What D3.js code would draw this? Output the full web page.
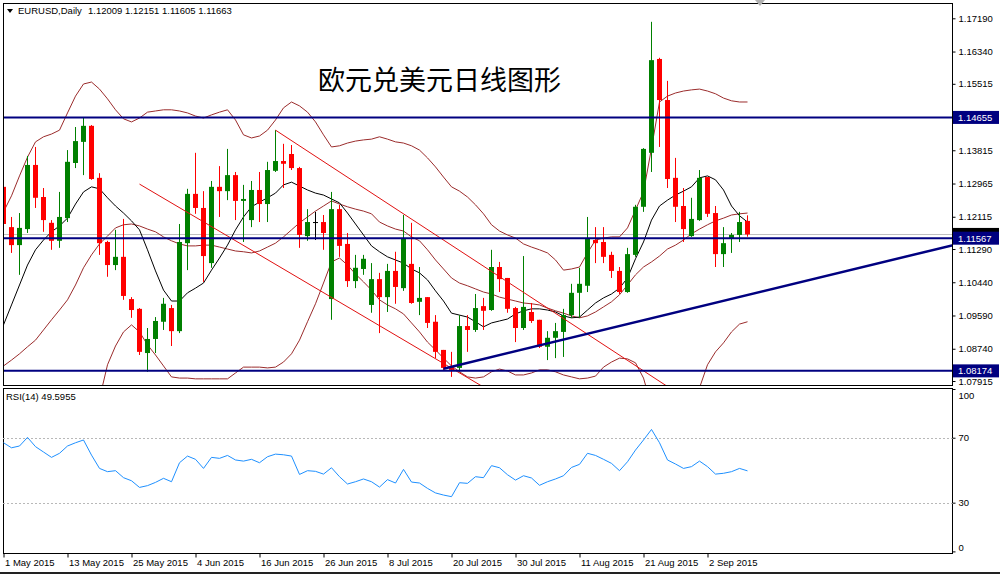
<!DOCTYPE html>
<html>
<head>
<meta charset="utf-8">
<script src="https://cdn.jsdelivr.net/npm/d3@7"></script>
<style>
  html, body { margin: 0; padding: 0; background: #fff; }
  svg { display: block; }
</style>
</head>
<body>
<div class="chart-container"></div>
<script>
// trading days shown on the chart (EURUSD daily, 1 May - 9 Sep 2015)
const dates = [
  "2015-05-01","2015-05-04","2015-05-05","2015-05-06","2015-05-07","2015-05-08","2015-05-11","2015-05-12","2015-05-13","2015-05-14",
  "2015-05-15","2015-05-18","2015-05-19","2015-05-20","2015-05-21","2015-05-22","2015-05-25","2015-05-26","2015-05-27","2015-05-28",
  "2015-05-29","2015-06-01","2015-06-02","2015-06-03","2015-06-04","2015-06-05","2015-06-08","2015-06-09","2015-06-10","2015-06-11",
  "2015-06-12","2015-06-15","2015-06-16","2015-06-17","2015-06-18","2015-06-19","2015-06-22","2015-06-23","2015-06-24","2015-06-25",
  "2015-06-26","2015-06-29","2015-06-30","2015-07-01","2015-07-02","2015-07-03","2015-07-06","2015-07-07","2015-07-08","2015-07-09",
  "2015-07-10","2015-07-13","2015-07-14","2015-07-15","2015-07-16","2015-07-17","2015-07-20","2015-07-21","2015-07-22","2015-07-23",
  "2015-07-24","2015-07-27","2015-07-28","2015-07-29","2015-07-30","2015-07-31","2015-08-03","2015-08-04","2015-08-05","2015-08-06",
  "2015-08-07","2015-08-10","2015-08-11","2015-08-12","2015-08-13","2015-08-14","2015-08-17","2015-08-18","2015-08-19","2015-08-20",
  "2015-08-21","2015-08-24","2015-08-25","2015-08-26","2015-08-27","2015-08-28","2015-08-31","2015-09-01","2015-09-02","2015-09-03",
  "2015-09-04","2015-09-07","2015-09-08","2015-09-09"
];

const opens = [
  1.1288,1.1185,1.1139,1.1180,1.1344,1.1262,1.1196,1.1150,1.1208,1.1349,
  1.1403,1.1444,1.1311,1.1147,1.1088,1.1109,1.1001,1.0976,1.0863,1.0899,
  1.0943,1.0978,1.0919,1.1144,1.1270,1.1234,1.1093,1.1288,1.1277,1.1318,
  1.1252,1.1203,1.1280,1.1244,1.1329,1.1354,1.1372,1.1336,1.1162,1.1198,
  1.1198,1.1001,1.1231,1.1142,1.1047,1.1078,1.0986,1.1052,1.1006,1.1073,
  1.1029,1.1091,1.0994,1.1006,1.0943,1.0871,1.0827,1.0825,1.0932,1.0922,
  1.0983,1.0973,1.1083,1.1055,1.0978,1.0927,1.0968,1.0948,1.0879,1.0902,
  1.0917,1.0960,1.1017,1.1035,1.1152,1.1147,1.1114,1.1073,1.1019,1.1114,
  1.1237,1.1375,1.1615,1.1510,1.1311,1.1239,1.1162,1.1203,1.1313,1.1221,
  1.1116,1.1157,1.1165,1.12009
];
const highs = [
  1.1293,1.1211,1.1221,1.1367,1.1390,1.1285,1.1203,1.1275,1.1382,1.1441,
  1.1465,1.1446,1.1323,1.1150,1.1178,1.1206,1.1006,1.0978,1.0927,1.0955,
  1.1004,1.0986,1.1193,1.1283,1.1375,1.1277,1.1303,1.1341,1.1385,1.1326,
  1.1293,1.1303,1.1326,1.1352,1.1433,1.1398,1.1395,1.1339,1.1231,1.1224,
  1.1216,1.1275,1.1242,1.1170,1.1114,1.1114,1.1093,1.1068,1.1091,1.1122,
  1.1216,1.1196,1.1083,1.1006,1.0960,1.0871,1.0866,1.0960,1.0960,1.1014,
  1.1004,1.1127,1.1096,1.1055,1.0981,1.1111,1.0991,1.0948,1.0919,1.0940,
  1.0976,1.1040,1.1081,1.1211,1.1185,1.1185,1.1122,1.1083,1.1132,1.1242,
  1.1387,1.1710,1.1618,1.1559,1.1362,1.1285,1.1260,1.1331,1.1313,1.1239,
  1.1185,1.1170,1.1224,1.12151
];
const lows = [
  1.1188,1.1119,1.1063,1.1170,1.1234,1.1173,1.1127,1.1132,1.1198,1.1336,
  1.1318,1.1306,1.1114,1.1058,1.1075,1.0999,1.0953,1.0858,1.0815,1.0863,
  1.0922,1.0881,1.0914,1.1075,1.1219,1.1045,1.1081,1.1211,1.1254,1.1203,
  1.1147,1.1185,1.1198,1.1198,1.1326,1.1285,1.1331,1.1132,1.1150,1.1152,
  1.1127,1.0948,1.1109,1.1032,1.1029,1.1063,1.0966,1.0914,1.0968,1.0989,
  1.1022,1.0989,1.0960,1.0927,1.0850,1.0817,1.0802,1.0815,1.0866,1.0917,
  1.0922,1.0971,1.1019,1.0966,1.0891,1.0922,1.0940,1.0876,1.0845,1.0850,
  1.0853,1.0953,1.0953,1.1019,1.1093,1.1093,1.1055,1.1014,1.1017,1.1109,
  1.1224,1.1326,1.1390,1.1285,1.1198,1.1147,1.1160,1.1201,1.1211,1.1083,
  1.1083,1.1119,1.1147,1.11605
];
const closes = [
  1.1193,1.1139,1.1183,1.1344,1.1260,1.1203,1.1150,1.1211,1.1352,1.1405,
  1.1444,1.1308,1.1144,1.1088,1.1109,1.1009,1.0973,1.0866,1.0899,1.0945,
  1.0989,1.0919,1.1147,1.1270,1.1234,1.1111,1.1288,1.1277,1.1318,1.1252,
  1.1257,1.1280,1.1244,1.1331,1.1354,1.1347,1.1336,1.1165,1.1198,1.1198,
  1.1170,1.1231,1.1137,1.1047,1.1081,1.1104,1.1052,1.1006,1.1073,1.1032,
  1.1155,1.0991,1.1004,1.0940,1.0866,1.0825,1.0820,1.0932,1.0922,1.0978,
  1.0971,1.1083,1.1052,1.0976,1.0927,1.0981,1.0945,1.0879,1.0902,1.0919,
  1.0960,1.1017,1.1040,1.1155,1.1144,1.1109,1.1073,1.1019,1.1116,1.1237,
  1.1385,1.1612,1.1510,1.1308,1.1237,1.1180,1.1206,1.1311,1.1219,1.1116,
  1.1144,1.1165,1.1198,1.11663
];

// black moving average
const maLine = [
  1.0935,1.0986,1.1037,1.1088,1.1127,1.1152,1.1173,1.1188,1.1208,1.1244,
  1.1275,1.1288,1.1283,1.1260,1.1239,1.1221,1.1201,1.1178,1.1127,1.1073,
  1.1024,1.0996,1.0996,1.1017,1.1029,1.1042,1.1075,1.1106,1.1139,1.1178,
  1.1211,1.1237,1.1249,1.1260,1.1272,1.1293,1.1300,1.1290,1.1280,1.1272,
  1.1267,1.1257,1.1247,1.1221,1.1193,1.1165,1.1137,1.1122,1.1109,1.1101,
  1.1093,1.1078,1.1068,1.1050,1.1022,1.0996,1.0965,1.0960,1.0955,1.0943,
  1.0930,1.0940,1.0945,1.0950,1.0963,1.0971,1.0976,1.0976,1.0973,1.0968,
  1.0958,1.0953,1.0955,1.0973,1.0991,1.1004,1.1014,1.1029,1.1055,1.1104,
  1.1147,1.1203,1.1239,1.1254,1.1267,1.1277,1.1288,1.1311,1.1316,1.1306,
  1.1280,1.1239,1.1214,1.1198
];

// Bollinger bands (brown)
const bbUpper = [
  1.1224,1.1265,1.1316,1.1364,1.1403,1.1416,1.1423,1.1433,1.1477,1.1520,
  1.1551,1.1556,1.1538,1.1513,1.1485,1.1462,1.1454,1.1464,1.1479,1.1482,
  1.1485,1.1485,1.1482,1.1477,1.1469,1.1464,1.1472,1.1479,1.1485,1.1459,
  1.1421,1.1413,1.1418,1.1433,1.1459,1.1490,1.1505,1.1495,1.1479,1.1454,
  1.1421,1.1390,1.1393,1.1400,1.1405,1.1408,1.1410,1.1416,1.1410,1.1403,
  1.1400,1.1393,1.1382,1.1362,1.1339,1.1313,1.1288,1.1277,1.1262,1.1242,
  1.1219,1.1191,1.1175,1.1165,1.1157,1.1142,1.1134,1.1127,1.1119,1.1101,
  1.1075,1.1078,1.1083,1.1119,1.1152,1.1157,1.1160,1.1160,1.1183,1.1229,
  1.1275,1.1387,1.1505,1.1520,1.1528,1.1533,1.1536,1.1538,1.1533,1.1526,
  1.1515,1.1508,1.1505,1.1505
];
const bbMiddle = [
  1.0830,1.0845,1.0861,1.0879,1.0896,1.0922,1.0948,1.0973,1.0999,1.1037,
  1.1081,1.1114,1.1142,1.1162,1.1183,1.1191,1.1193,1.1188,1.1180,1.1173,
  1.1160,1.1150,1.1142,1.1137,1.1137,1.1139,1.1139,1.1134,1.1129,1.1124,
  1.1122,1.1119,1.1124,1.1134,1.1144,1.1160,1.1178,1.1196,1.1211,1.1226,
  1.1239,1.1252,1.1244,1.1237,1.1231,1.1226,1.1219,1.1198,1.1188,1.1180,
  1.1175,1.1160,1.1150,1.1127,1.1101,1.1078,1.1055,1.1042,1.1035,1.1027,
  1.1019,1.1014,1.1006,1.1001,1.0996,1.0991,1.0989,1.0986,1.0978,1.0971,
  1.0965,1.0958,1.0953,1.0958,1.0968,1.0981,1.0994,1.1012,1.1037,1.1063,
  1.1083,1.1096,1.1111,1.1129,1.1139,1.1152,1.1168,1.1180,1.1191,1.1201,
  1.1208,1.1216,1.1219,1.1221
];
const bbLower = [
  1.0436,1.0426,1.0406,1.0393,1.0390,1.0429,1.0472,1.0513,1.0521,1.0554,
  1.0610,1.0671,1.0746,1.0833,1.0881,1.0917,1.0935,1.0917,1.0884,1.0858,
  1.0830,1.0802,1.0799,1.0799,1.0797,1.0797,1.0797,1.0797,1.0797,1.0812,
  1.0827,1.0827,1.0827,1.0825,1.0827,1.0840,1.0861,1.0896,1.0943,1.0989,
  1.1042,1.1096,1.1106,1.1088,1.1065,1.1045,1.1024,1.0999,1.0986,1.0976,
  1.0963,1.0940,1.0917,1.0891,1.0871,1.0850,1.0830,1.0815,1.0802,1.0799,
  1.0802,1.0815,1.0822,1.0817,1.0807,1.0807,1.0812,1.0820,1.0820,1.0815,
  1.0807,1.0802,1.0797,1.0799,1.0804,1.0827,1.0840,1.0850,1.0848,1.0838,
  1.0799,1.0728,1.0692,1.0712,1.0730,1.0748,1.0763,1.0774,1.0833,1.0866,
  1.0889,1.0917,1.0937,1.0943
];

// RSI(14)
const rsiValues = [
  66.9,63.8,64.9,70.2,64.5,61.2,57.9,60.4,64.9,66.9,
  68.6,59.3,51.1,49.1,49.7,45.4,43.5,39.4,40.5,42.5,
  45.0,42.9,54.6,58.7,56.7,51.1,57.9,57.3,59.1,56.3,
  55.6,56.7,54.6,58.3,59.9,59.5,58.7,47.4,49.7,49.3,
  47.6,51.5,46.0,41.5,42.9,44.6,42.9,39.6,44.2,42.1,
  50.5,42.7,42.1,38.8,36.0,34.7,33.7,42.3,41.9,46.0,
  45.4,52.8,51.5,47.2,43.9,46.6,45.2,40.7,42.9,44.6,
  46.6,51.7,53.6,60.4,59.1,56.7,54.2,49.7,55.2,62.4,
  68.6,75.1,66.9,56.3,53.8,51.1,52.2,55.6,52.2,47.6,
  48.1,49.1,51.1,49.6
];
const rsiLevels = [70, 30];
const rsiTicks = [100, 70, 30, 0];

const priceTicks = [1.17190, 1.16340, 1.15515, 1.14655, 1.13815, 1.12965, 1.12115, 1.11290, 1.10440, 1.09590, 1.08740, 1.07915];
const xTickDates = ["2015-05-01","2015-05-13","2015-05-25","2015-06-04","2015-06-16","2015-06-26","2015-07-08","2015-07-20","2015-07-30","2015-08-11","2015-08-21","2015-09-02"];
const xTickLabels = ["1 May 2015","13 May 2015","25 May 2015","4 Jun 2015","16 Jun 2015","26 Jun 2015","8 Jul 2015","20 Jul 2015","30 Jul 2015","11 Aug 2015","21 Aug 2015","2 Sep 2015"];

// drawn objects
const levels = [1.14655, 1.11567, 1.08174];
const trendPoints = [["2015-07-17", 1.0823], ["2015-08-21", 1.0947]];
const channelA = [["2015-05-26", 1.1295], ["2015-07-27", 1.0764]];
const channelB = [["2015-06-18", 1.1433], ["2015-08-27", 1.0764]];

const symbolText = "EURUSD,Daily";
const ohlcText = "1.12009 1.12151 1.11605 1.11663";
const rsiText = "RSI(14) 49.5955";
const title = "欧元兑美元日线图形";

// ---------------------------------------------------------------
const font = '"Liberation Sans", Arial, sans-serif';
const width = 1000, height = 574;
const panelLeft = 3, panelRight = 953;
const mainTop = 3, mainBottom = 385;
const rsiTop = 388, rsiBottom = 553;

const svg = d3.select('.chart-container')
  .append('svg')
  .attr('width', width)
  .attr('height', height)
  .style('font-family', font);

svg.append('rect').attr('width', width).attr('height', height).attr('fill', '#fff');

const xScale = d3.scalePoint().domain(dates).range([3.5, 747.5]);
const yScale = d3.scaleLinear().domain([1.07915, 1.17190]).range([381, 18.3]);
const yRsi = d3.scaleLinear().domain([0, 100]).range([551.4, 389]);

const defs = svg.append('defs');
defs.append('clipPath').attr('id', 'main-clip')
  .append('rect').attr('x', panelLeft).attr('y', mainTop)
  .attr('width', panelRight - panelLeft).attr('height', mainBottom - mainTop);
defs.append('clipPath').attr('id', 'rsi-clip')
  .append('rect').attr('x', panelLeft).attr('y', rsiTop)
  .attr('width', panelRight - panelLeft).attr('height', rsiBottom - rsiTop);

const plot = svg.append('g').attr('clip-path', 'url(#main-clip)');

const last = closes.length - 1;

// current price line (light gray)
plot.append('line')
  .attr('x1', panelLeft).attr('x2', panelRight)
  .attr('y1', Math.round(yScale(closes[last])) + 0.5)
  .attr('y2', Math.round(yScale(closes[last])) + 0.5)
  .attr('stroke', '#c0c0c0').attr('stroke-width', 1);

const seriesLine = d3.line()
  .x((d, i) => xScale(dates[i]))
  .y(d => yScale(d));

// bollinger bands
[bbUpper, bbMiddle, bbLower].forEach(band => {
  plot.append('path')
    .attr('d', seriesLine(band))
    .attr('fill', 'none')
    .attr('stroke', '#9b2c2c')
    .attr('stroke-width', 1);
});

// moving average
plot.append('path')
  .attr('d', seriesLine(maLine))
  .attr('fill', 'none')
  .attr('stroke', '#000')
  .attr('stroke-width', 1);

// candles
const candleColor = i => closes[i] > opens[i] ? '#008000' : (closes[i] < opens[i] ? '#ff0000' : '#000');
const candles = plot.append('g')
  .selectAll('g')
  .data(d3.range(dates.length))
  .join('g');

candles.append('line')
  .attr('x1', i => xScale(dates[i]))
  .attr('x2', i => xScale(dates[i]))
  .attr('y1', i => yScale(highs[i]))
  .attr('y2', i => yScale(lows[i]))
  .attr('stroke', candleColor)
  .attr('stroke-width', 1);

candles.append('rect')
  .attr('x', i => xScale(dates[i]) - 2.5)
  .attr('width', 5)
  .attr('y', i => yScale(Math.max(opens[i], closes[i])))
  .attr('height', i => Math.max(1, Math.abs(yScale(opens[i]) - yScale(closes[i]))))
  .attr('fill', candleColor);

// red channel lines
const pointLine = d3.line()
  .x(d => xScale(d[0]))
  .y(d => yScale(d[1]));

[channelA, channelB].forEach(ch => {
  plot.append('path')
    .attr('d', pointLine(ch))
    .attr('fill', 'none')
    .attr('stroke', '#e01010')
    .attr('stroke-width', 1);
});

// horizontal levels
plot.selectAll('.level')
  .data(levels)
  .join('line')
  .attr('class', 'level')
  .attr('x1', panelLeft).attr('x2', panelRight)
  .attr('y1', d => yScale(d)).attr('y2', d => yScale(d))
  .attr('stroke', '#000080')
  .attr('stroke-width', 2);

// rising trendline, extended to the right edge
const tx0 = xScale(trendPoints[0][0]), ty0 = yScale(trendPoints[0][1]);
const tx1 = xScale(trendPoints[1][0]), ty1 = yScale(trendPoints[1][1]);
const slope = (ty1 - ty0) / (tx1 - tx0);
plot.append('line')
  .attr('x1', tx0).attr('y1', ty0)
  .attr('x2', panelRight).attr('y2', ty0 + slope * (panelRight - tx0))
  .attr('stroke', '#000080')
  .attr('stroke-width', 2.5);

// panel borders
svg.append('rect')
  .attr('x', panelLeft + 0.5).attr('y', mainTop + 0.5)
  .attr('width', panelRight - panelLeft - 1).attr('height', mainBottom - mainTop)
  .attr('fill', 'none').attr('stroke', '#000');
svg.append('rect')
  .attr('x', panelLeft + 0.5).attr('y', rsiTop + 0.5)
  .attr('width', panelRight - panelLeft - 1).attr('height', rsiBottom - rsiTop)
  .attr('fill', 'none').attr('stroke', '#000');

// price axis
const yAxis = d3.axisRight(yScale)
  .tickValues(priceTicks)
  .tickFormat(d3.format('.5f'))
  .tickSize(3)
  .tickPadding(3);
svg.append('g')
  .attr('transform', 'translate(' + (panelRight - 0.5) + ',0)')
  .call(yAxis)
  .call(g => g.select('.domain').remove())
  .call(g => g.selectAll('text').attr('font-family', font).attr('font-size', 9.5).attr('fill', '#000'));

// axis badges: current price first, then the levels on top
function badge(value, fill) {
  const y = yScale(value);
  const g = svg.append('g');
  g.append('rect')
    .attr('x', panelRight).attr('y', y - 6.5)
    .attr('width', 46).attr('height', 13)
    .attr('fill', fill);
  g.append('text')
    .attr('x', panelRight + 5).attr('y', y)
    .attr('dy', '0.35em')
    .attr('font-size', 9.5)
    .attr('fill', '#fff')
    .text(d3.format('.5f')(value));
}
badge(closes[last], '#000');
levels.forEach(v => badge(v, '#000080'));

// header
svg.append('path')
  .attr('d', 'M7,9 L13,9 L10,13 Z')
  .attr('fill', '#000');
svg.append('text')
  .attr('x', 18).attr('y', 11).attr('dy', '0.35em')
  .attr('font-size', 9.5)
  .text(symbolText);
svg.append('text')
  .attr('x', 88).attr('y', 11).attr('dy', '0.35em')
  .attr('font-size', 9.5)
  .text(ohlcText);

// chart shift marker
svg.append('path')
  .attr('d', 'M755,0 L765,0 L760,6 Z')
  .attr('fill', '#b0b0b0');

// title
svg.append('text')
  .attr('x', 318).attr('y', 78)
  .attr('dominant-baseline', 'central')
  .attr('font-family', '"Noto Sans CJK SC", sans-serif')
  .attr('font-size', 27)
  .attr('fill', '#000')
  .text(title);

// RSI panel
const rsiPlot = svg.append('g').attr('clip-path', 'url(#rsi-clip)');
rsiPlot.selectAll('.rsi-level')
  .data(rsiLevels)
  .join('line')
  .attr('class', 'rsi-level')
  .attr('x1', panelLeft).attr('x2', panelRight)
  .attr('y1', d => Math.round(yRsi(d)) + 0.5).attr('y2', d => Math.round(yRsi(d)) + 0.5)
  .attr('stroke', '#b8b8b8')
  .attr('stroke-dasharray', '2,2');

const rsiLine = d3.line()
  .x((d, i) => xScale(dates[i]))
  .y(d => yRsi(d));
rsiPlot.append('path')
  .attr('d', rsiLine(rsiValues))
  .attr('fill', 'none')
  .attr('stroke', '#1e90ff')
  .attr('stroke-width', 1);

svg.append('text')
  .attr('x', 6).attr('y', 397).attr('dy', '0.35em')
  .attr('font-size', 9.5)
  .text(rsiText);

const rsiAxis = d3.axisRight(yRsi)
  .tickValues(rsiTicks)
  .tickFormat(d3.format('d'))
  .tickSize(3)
  .tickPadding(3);
svg.append('g')
  .attr('transform', 'translate(' + (panelRight - 0.5) + ',0)')
  .call(rsiAxis)
  .call(g => g.select('.domain').remove())
  .call(g => g.selectAll('text')
    .attr('font-family', font).attr('font-size', 9.5).attr('fill', '#000')
    .attr('y', d => d === 100 ? 6 : (d === 0 ? -4 : 0)));

// time axis
const xAxis = d3.axisBottom(xScale)
  .tickValues(xTickDates)
  .tickFormat((d, i) => xTickLabels[i])
  .tickSize(4)
  .tickPadding(2);
svg.append('g')
  .attr('transform', 'translate(0,' + (rsiBottom + 0.5) + ')')
  .call(xAxis)
  .call(g => g.select('.domain').remove())
  .call(g => g.selectAll('text')
    .attr('font-family', font).attr('font-size', 9.5).attr('fill', '#000')
    .attr('text-anchor', 'start').attr('x', 1));

// bottom frame line
svg.append('line')
  .attr('x1', 0).attr('x2', width)
  .attr('y1', 573).attr('y2', 573)
  .attr('stroke', '#222').attr('stroke-width', 2);
</script>
</body>
</html>
